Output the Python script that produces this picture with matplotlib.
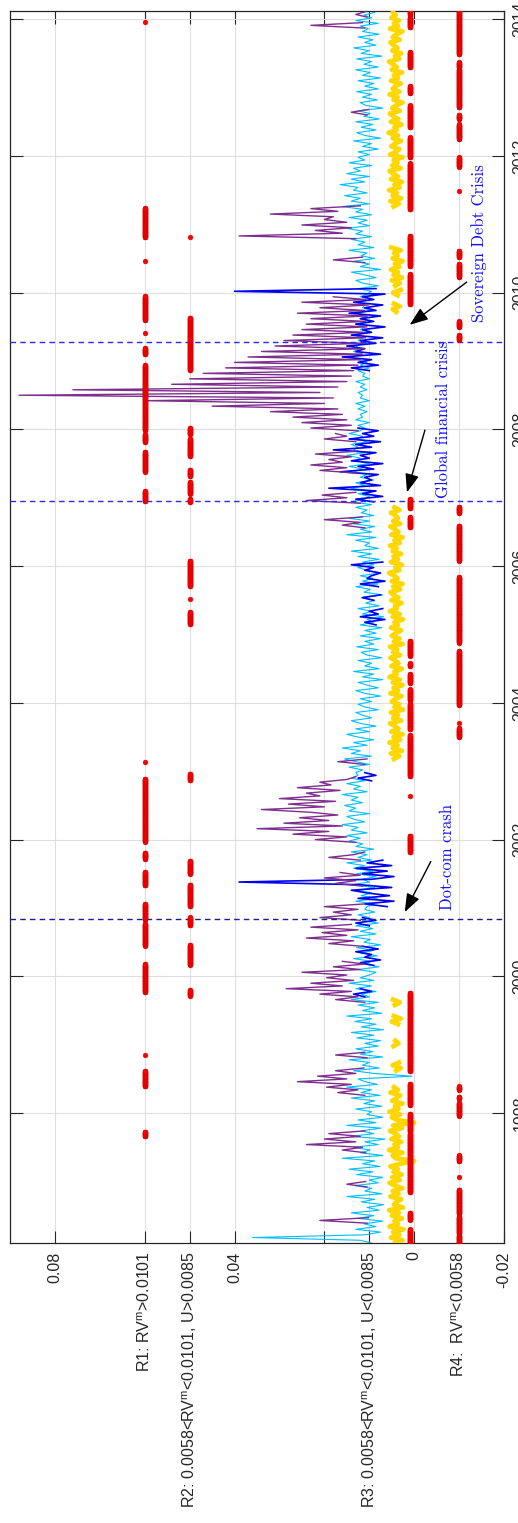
import numpy as np
import matplotlib
matplotlib.use('Agg')
import matplotlib.pyplot as plt

plt.rcParams['font.family'] = ['Liberation Sans', 'DejaVu Sans']
plt.rcParams['mathtext.fontset'] = 'custom'
plt.rcParams['mathtext.rm'] = 'Liberation Sans'
plt.rcParams['mathtext.it'] = 'Liberation Sans'

step = 0.04  # years between readings

# realized volatility readings, units of 1e-4
cyan_start = 1996.10
cyan_vals = [
    95, 120, 360, 110, 75, 130, 85, 112, 70, 125, 90, 140, 78, 105, 68, 118, 88, 150, 72, 110, 95, 132, 80,
    100, 70, 128, 92, 145, 76, 115, 88, 160, 70, 120, 98, 135, 80, 110, 65, 140, 90, 118, 74, 150, 85, 125, 70, 105,
    95, 130, 72, 112, 88, 140, 76, 118, 95, 150, 82, 110, 125, 5, 90, 135, 78, 115, 100, 145, 70, 120, 92, 130, 80,
    110, 75, 128, 90, 140, 68, 118, 85, 132, 95, 150, 72, 115, 88, 125, 80, 140, 100, 118, 85, 130, 95, 145, 90, 120,
    100, 85, 125, 78, 110, 95, 135, 82, 118, 90, 128, 75, 112, 98, 140, 85, 120, 92, 130, 80, 115, 100, 125, 88, 110,
    105, 90, 130, 82, 118, 95, 125, 88, 140, 100, 115, 85, 128, 92, 135, 110, 150, 95, 125, 105, 140, 90, 130, 115, 145,
    120, 150, 105, 140, 125, 160, 110, 135, 150, 100, 145, 130, 155, 115, 140, 125, 160, 105, 135, 120, 150, 110, 140, 125, 130,
    115, 145, 100, 130, 155, 95, 140, 120, 160, 105, 135, 90, 125, 150, 100, 130, 85, 120, 140, 95, 115, 130, 80, 110, 125,
    95, 120, 75, 110, 130, 80, 105, 125, 70, 115, 90, 135, 78, 110, 95, 125, 72, 105, 118, 80, 128, 90, 110, 75, 120,
    85, 110, 72, 120, 90, 105, 68, 115, 95, 125, 78, 108, 88, 118, 70, 112, 98, 130, 80, 115, 92, 120, 75, 105, 125,
    90, 115, 78, 125, 95, 140, 80, 110, 100, 130, 85, 150, 95, 120, 88, 135, 100, 145, 90, 118, 105, 130, 95, 140, 110,
    100, 125, 95, 140, 110, 130, 90, 120, 105, 135, 115, 145, 100, 130, 120, 150, 110, 135, 125, 140, 105, 130, 115, 145, 120,
    110, 125, 100, 130, 115, 120, 105, 125, 110, 130, 100, 120, 115, 125, 105, 120, 110, 130, 100, 115, 110, 125, 100, 120, 105,
    125, 140, 115, 135, 120, 130, 105, 125, 115, 135, 100, 120, 110, 130, 95, 120, 105, 125, 98, 115, 110, 130, 95, 120, 105,
    95, 125, 80, 115, 130, 85, 110, 140, 75, 120, 100, 135, 88, 118, 105, 145, 90, 125, 110, 140, 95, 130, 115, 150, 100,
    125, 105, 145, 95, 130, 115, 160, 100, 140, 120, 155, 105, 135, 125, 165, 110, 140, 100, 150, 120, 135, 95, 145, 110, 125,
    100, 125, 80, 115, 95, 135, 75, 110, 128, 85, 118, 92, 130, 78, 112, 98, 125, 70, 108, 120, 82, 115, 95, 128, 80,
    110, 90, 125, 75, 115, 98, 130, 80, 112, 95, 128, 72, 118, 100, 135, 85, 110, 92, 125, 78, 115, 102, 120, 80, 130, 95, 112, 88,
]

yellow_runs = [
    (1996.10, [42, 26, 52, 33, 47, 24, 55, 36, 44, 27, 50, 34, 56, 25, 45, 40, 29, 53, 35, 48, 26, 43, 55, 32, 49,
               28, 46, 36, 53, 31, 0, 41, 48, 26, 56, 36, 44, 29, 51, 34, 42, 54, 27, 47, 0, 38, 50, 31, 55, 35,
               43, 26, 49, 39, 31, 53, 36, 45]),
    (1998.62, [40, 30, 48, 34]),
    (1998.98, [46, 35, 42]),
    (1999.30, [36, 50, 30, 45]),
    (1999.58, [43, 32, 47]),
    (2003.18, [45, 33, 52, 27, 48, 37, 55, 31, 46, 26, 51, 35, 42, 54, 29, 47, 36, 52, 25, 44, 33, 50, 41, 28, 53,
               36, 46, 26, 48, 32, 55, 39, 44, 27, 51, 35, 42, 53, 31, 47, 38, 54, 26, 45, 33, 50, 41, 29, 52, 36,
               44, 25, 48, 32, 54, 39, 43, 28, 51, 35, 46, 53, 31, 47, 26, 50, 37, 44, 56, 33, 42, 27, 52, 36, 46,
               29, 48, 39, 54, 32, 44, 26, 51, 35, 43, 53, 31, 47, 36, 41, 52, 33, 44]),
    (2009.72, [40, 48, 32, 45]),
    (2009.96, [37, 47, 30]),
    (2010.10, [42, 32, 50, 27, 46, 36, 52, 33, 43, 26, 48, 37, 45, 30, 51]),
    (2011.26, [46, 34, 53, 29, 48, 39, 56, 32, 44, 27, 52, 36, 47, 55, 30, 49, 37, 46, 26, 54, 40, 33, 51, 43, 29,
               48, 36, 57, 39, 44, 28, 52, 35, 47, 54, 32, 49, 40, 26, 46, 37, 55, 33, 48, 42, 30, 52, 36, 45, 27,
               50, 39, 47, 56, 33, 43, 29, 49, 37, 46, 53, 32, 48, 40, 26, 54, 36, 45, 34, 51, 41, 47]),
]

purple_runs = [
    (1996.39, [105, 210, 102]),
    (1996.92, [105, 150, 108]),
    (1997.42, [108, 160, 115, 240, 130, 200, 120, 190, 110]),
    (1998.26, [110, 170, 125, 195, 140, 260, 150, 215, 130, 175, 112]),
    (1998.81, [105, 175, 110]),
    (1999.62, [110, 175, 125, 210, 140, 285, 160, 230, 135, 195, 150, 250, 120, 180, 110, 160]),
    (2000.44, [115, 190, 135, 240, 150, 205, 125, 230, 140]),
    (2000.82, [120, 210, 140, 180, 125, 200, 110]),
    (2001.32, [115, 175, 130, 200, 120, 165]),
    (2001.70, [120, 190, 135, 110]),
    (2001.96, [130, 220, 150, 270, 190, 350, 160, 290, 190, 255, 170, 230, 340, 200, 280, 175, 300, 210, 240, 165,
               260, 185, 210, 150, 130]),
    (2003.10, [110, 170, 105]),
    (2006.56, [110, 160, 120, 200, 115]),
    (2006.92, [120, 240, 150, 205, 130]),
    (2007.36, [125, 210, 150, 230, 160, 190, 140, 220, 130]),
    (2007.82, [130, 200, 150, 175]),
    (2007.98, [125, 230, 140, 250, 150, 270, 160, 320, 170, 450, 200, 600, 180, 880, 210, 760, 170, 540, 150, 500,
               140, 470, 135, 420, 125, 400, 120, 370, 115, 340, 110, 310, 112, 290, 108, 270, 110, 250, 105, 240,
               108, 230, 104, 260, 110, 210, 102, 250, 108, 180]),
    (2010.44, [110, 180, 115]),
    (2010.79, [130, 390, 160, 220, 140, 250, 150, 200, 180, 320, 170, 230, 120]),
    (2012.60, [105, 140, 102]),
    (2013.87, [110, 230, 115]),
    (2014.03, [105, 130, 108]),
]

blue_runs = [
    (1999.70, [110, 135, 95, 120]),
    (2000.16, [90, 120, 75, 110, 95, 130, 80, 115]),
    (2000.74, [100, 130, 85, 115]),
    (2001.02, [60, 110, 45, 125, 55, 105, 140, 50, 120, 390, 95, 45, 115, 60, 130, 50, 105, 70]),
    (2002.86, [95, 125, 85, 110]),
    (2005.14, [85, 110, 65, 120, 80, 100, 70]),
    (2005.50, [90, 115, 75]),
    (2005.70, [80, 120, 65, 105, 95, 75, 110, 90, 140, 70]),
    (2006.94, [90, 130, 70, 115, 85, 190, 75, 120, 95, 110, 80, 165, 90, 125, 70, 140, 100, 120, 85, 180,
               95, 130, 75, 145, 90, 115, 80, 125]),
    (2008.86, [100, 140, 80, 125, 95, 160, 75, 130, 110, 150, 85, 120, 70, 140, 95, 115, 65, 130, 90, 120,
               75, 145, 85, 110, 70, 135, 90, 115, 65, 400, 85]),
]

# regime membership periods (years) marked with red dots
r1_spans = [(1997.66, 1997.73), (1998.39, 1998.62), (1998.85, 1998.85), (1999.77, 2000.18), (2000.45, 2000.77),
            (2000.83, 2001.06), (2001.33, 2001.53), (2001.72, 2001.81), (2001.97, 2002.89), (2003.14, 2003.14),
            (2006.95, 2007.10), (2007.38, 2007.67), (2007.82, 2007.93), (2007.99, 2008.94), (2009.10, 2009.19),
            (2009.41, 2009.41), (2009.60, 2009.95), (2010.46, 2010.46), (2010.81, 2011.24), (2013.96, 2013.96)]
r2_spans = [(1999.72, 1999.80), (2000.17, 2000.46), (2000.75, 2000.86), (2001.03, 2001.34), (2001.50, 2001.69),
            (2002.87, 2002.96), (2005.15, 2005.33), (2005.52, 2005.52), (2005.71, 2006.08), (2006.94, 2006.98),
            (2007.06, 2007.23), (2007.32, 2007.41), (2007.61, 2007.86), (2007.93, 2008.02), (2008.87, 2009.63),
            (2010.81, 2010.81)]
r3_spans = [(1996.08, 1996.30), (1996.44, 1996.54), (1996.84, 1997.70), (1997.73, 1997.99), (1998.12, 1998.43),
            (1998.61, 1999.76), (2001.82, 2002.06), (2002.63, 2002.63), (2002.93, 2003.53), (2003.61, 2003.99),
            (2004.04, 2004.20), (2004.29, 2004.42), (2004.54, 2004.58), (2004.69, 2004.91), (2006.57, 2006.72),
            (2006.85, 2006.98), (2009.83, 2010.27), (2010.39, 2010.83), (2011.22, 2011.89), (2011.98, 2012.27),
            (2012.42, 2012.74), (2012.92, 2013.02), (2013.30, 2013.52), (2013.88, 2014.03), (2014.07, 2014.12)]
r4_spans = [(1996.08, 1996.21), (1996.24, 1996.49), (1996.53, 1996.88), (1997.07, 1997.07), (1997.30, 1997.38),
            (1997.96, 1998.15), (1998.21, 1998.24), (1998.34, 1998.39), (2003.50, 2003.63), (2003.71, 2003.71),
            (2003.97, 2004.76), (2004.88, 2005.84), (2006.08, 2006.59), (2006.78, 2006.87), (2009.31, 2009.38),
            (2009.50, 2009.58), (2010.23, 2010.42), (2010.52, 2010.61), (2011.49, 2011.49), (2011.84, 2011.98),
            (2012.25, 2012.46), (2012.54, 2012.60), (2012.71, 2013.27), (2013.30, 2013.37), (2013.49, 2014.12)]
regime_levels = [0.06, 0.05, 0.001, -0.01]

val_ticks = [-0.02, -0.01, 0, 0.01, 0.02, 0.04, 0.05, 0.06, 0.08]
val_labels = ['-0.02', 'R4:  RV$^{\\mathrm{m}}$<0.0058', '0',
              'R3: 0.0058<RV$^{\\mathrm{m}}$<0.0101, U<0.0085', '', '0.04',
              'R2: 0.0058<RV$^{\\mathrm{m}}$<0.0101, U>0.0085', 'R1: RV$^{\\mathrm{m}}$>0.0101', '0.08']
year_ticks = [1998, 2000, 2002, 2004, 2006, 2008, 2010, 2012, 2014]

crises = [(2000.84, '#1c1c94'), (2006.96, '#2a2aee'), (2009.28, '#2a2aee')]
# label, text anchor (value, year), arrow tail, arrow head
notes = [('Dot-com crash', (-0.0074, 2000.97), (-0.0037, 2001.68), (0.0021, 2000.94)),
         ('Global financial crisis', (-0.0066, 2007.00), (-0.0024, 2007.99), (0.0016, 2007.08)),
         ('Sovereign Debt Crisis', (-0.0144, 2009.57), (-0.0117, 2010.155), (0.0010, 2009.53))]


def runs_to_xy(runs):
    tt, vv = [], []
    for start, vals in runs:
        tt.extend(start + step * np.arange(len(vals)))
        vv.extend(np.array(vals) * 1e-4)
        tt.append(np.nan)
        vv.append(np.nan)
    return np.array(tt), np.array(vv)


fig = plt.figure(figsize=(5.18, 15.23), dpi=100)
ax = fig.add_axes([10 / 518, 280 / 1523, 494 / 518, 1232 / 1523])

# chart is drawn turned on its side: value runs right to left, time bottom to top
t, v = runs_to_xy([(cyan_start, cyan_vals)])
ax.plot(v, t, color='#00BFFF', lw=0.8, zorder=2)
t, v = runs_to_xy(yellow_runs)
ax.plot(v, t, color='#FFD700', lw=3.4, zorder=3)
t, v = runs_to_xy(blue_runs)
ax.plot(v, t, color='#0000EE', lw=1.2, zorder=4)
t, v = runs_to_xy(purple_runs)
ax.plot(v, t, color='#7E2F8E', lw=1.0, zorder=5)

days = np.arange(1996.08, 2014.12, 1 / 252)
for spans, lev in zip([r1_spans, r2_spans, r3_spans, r4_spans], regime_levels):
    mask = np.zeros(len(days), dtype=bool)
    for a, b in spans:
        mask |= (days >= a - 0.002) & (days <= b + 0.002)
    ax.plot(np.full(mask.sum(), lev), days[mask], 'o', ms=3.4, color='#FF0000',
            mec='#E00000', mew=0.4, zorder=7)

for yr, col in crises:
    ax.axhline(yr, color=col, lw=1.0, ls=(0, (4, 3)), zorder=6)

for txt, pos, tail, head in notes:
    ax.annotate('', xy=head, xytext=tail,
                arrowprops=dict(arrowstyle='-|>,head_length=0.8,head_width=0.3', color='k',
                                lw=1.0, mutation_scale=14, shrinkA=0, shrinkB=0), zorder=8)
    ax.text(pos[0], pos[1], txt, rotation=90, rotation_mode='anchor', ha='left', va='center',
            color='#1010FF', family='cmr10', fontsize=12, zorder=8)

ax.set_xlim(0.09, -0.02)
ax.set_ylim(1996.10, 2014.12)
ax.set_xticks(val_ticks)
ax.set_xticklabels(val_labels, rotation=90, fontsize=11.5, color='#262626')
ax.set_yticks(year_ticks)
ax.set_yticklabels([str(y) for y in year_ticks], rotation=90, fontsize=11.5, color='#262626')
ax.tick_params(axis='x', direction='in', length=9, width=0.8, color='#262626',
               top=True, bottom=True, pad=6)
ax.tick_params(axis='y', direction='in', length=9, width=0.8, color='#262626',
               left=True, right=True, labelleft=False, labelright=True, pad=6)
for lb in ax.yaxis.get_majorticklabels():
    lb.set_va('center')
ax.grid(True, color='#DEDEDE', lw=0.8, zorder=0)
ax.set_axisbelow(True)
for s in ax.spines.values():
    s.set_color('#262626')
    s.set_linewidth(0.9)

fig.savefig('out.png', dpi=100)
